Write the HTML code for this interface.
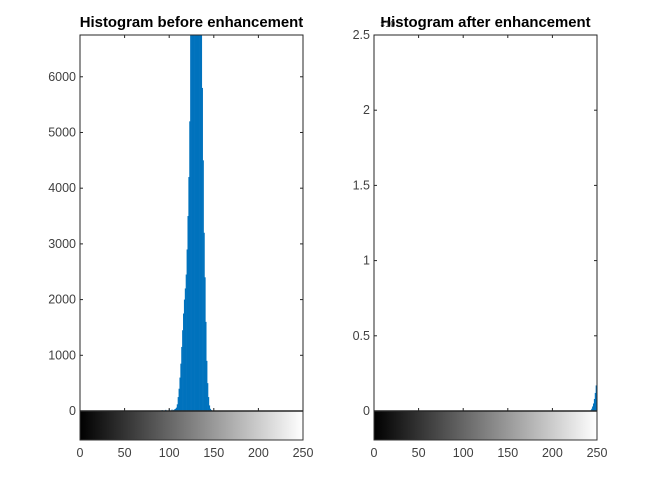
<!DOCTYPE html>
<html><head><meta charset="utf-8"><style>
html,body{margin:0;padding:0;background:#fff;}
svg text{font-family:"Liberation Sans",Arial,sans-serif;}
</style></head><body>
<svg id="fig" width="660" height="478" viewBox="0 0 660 478" xmlns="http://www.w3.org/2000/svg">
<defs>
<linearGradient id="gray" x1="0" x2="1" y1="0" y2="0"><stop offset="0" stop-color="#000"/><stop offset="1" stop-color="#fff"/></linearGradient>
</defs>
</svg>
<script>
// Left histogram (before enhancement)
const binsBefore = [92,96,100,103,105,106,107,108,109,110,111,112,113,114,115,116,117,118,119,120,121,122,123,124,125,126,127,128,129,130,131,132,133,134,135,136,137,138,139,140,141,142,143,144,145,146,147];
const countsBefore = [15,20,30,25,20,30,40,60,120,250,400,600,850,1150,1450,1750,2000,2200,2450,2900,3500,4200,5200,7000,8000,8500,8800,9000,9000,8800,8500,8000,7500,7200,7000,6900,5800,4500,3200,2400,1600,900,500,250,100,40,20];
const yTicksBefore = [0,1000,2000,3000,4000,5000,6000];
// Right histogram (after enhancement), counts in units of 10^4
const binsAfter = [243,244,245,246,247,248,249,250];
const countsAfter = [0.005,0.015,0.03,0.05,0.08,0.12,0.17,0.23];
const yTicksAfter = [0,0.5,1,1.5,2,2.5];
const yTickLabelsAfter = ["0","0.5","1","1.5","2","2.5"];
const xTicks = [0,50,100,150,200,250];

const NS="http://www.w3.org/2000/svg";
const svg=document.getElementById('fig');
function mk(tag,attrs,parent){const e=document.createElementNS(NS,tag);for(const k in attrs)e.setAttribute(k,attrs[k]);(parent||svg).appendChild(e);return e;}

function panel(o){
  const g=mk('g',{});
  
  
  const sx=v=>o.x0+(v-0)/(250-0)*(o.x1-o.x0);
  const sy=v=>o.y0-(v-0)/(o.ymax)*(o.y0-o.yTop);
  const cid='clip-'+o.name;
  const cp=mk('clipPath',{id:cid},g);mk('rect',{x:o.x0,y:o.yTop,width:o.x1-o.x0,height:o.y0-o.yTop},cp);
  const bars=mk('g',{'clip-path':'url(#'+cid+')'},g);
  o.bins.forEach((b,i)=>{
    const y=sy(o.counts[i]);
    const r=mk('rect',{x:sx(b-0.5),y:y,width:sx(b+0.5)-sx(b-0.5)+0.3,height:o.y0-y,fill:'#0072BD'},bars);
    
    
  });
  const cb=mk('rect',{x:o.x0,y:o.y0,width:o.x1-o.x0,height:29,fill:'url(#gray)',stroke:'#333','stroke-width':1},g);
  
  
  const box=mk('rect',{x:o.x0,y:o.yTop,width:o.x1-o.x0,height:o.y0-o.yTop,fill:'none',stroke:'#262626','stroke-width':1},g);
  
  
  mk('line',{x1:o.x0,x2:o.x1,y1:o.y0,y2:o.y0,stroke:'#262626','stroke-width':1.5},g);
  o.yTicks.forEach((t,i)=>{
    const y=sy(t);
    mk('line',{x1:o.x0,x2:o.x0+3,y1:y,y2:y,stroke:'#262626'},g);
    mk('line',{x1:o.x1,x2:o.x1-3,y1:y,y2:y,stroke:'#262626'},g);
    const tx=mk('text',{x:o.x0-4,y:y+4,'text-anchor':'end','font-size':12.5,fill:'#404040'},g);
    tx.textContent=o.yLabels?o.yLabels[i]:String(t);
    
    
  });
  xTicks.forEach(t=>{
    const x=sx(t);
    mk('line',{x1:x,x2:x,y1:o.yTop,y2:o.yTop+3,stroke:'#262626'},g);
    mk('line',{x1:x,x2:x,y1:o.y0,y2:o.y0-3,stroke:'#262626'},g);
    const tx=mk('text',{x:x,y:457,'text-anchor':'middle','font-size':12.5,fill:'#404040'},g);
    tx.textContent=String(t);
    
    
  });
  const ti=mk('text',{x:(o.x0+o.x1)/2,y:27,'text-anchor':'middle','font-size':14.9,'font-weight':'bold',fill:'#000'},g);
  ti.textContent=o.title;
  
  
  return g;
}
panel({name:'histogram-before',x0:80,x1:303,y0:411,yTop:35,ymax:6750,bins:binsBefore,counts:countsBefore,yTicks:yTicksBefore,title:'Histogram before enhancement'});
panel({name:'histogram-after',x0:374,x1:597,y0:411,yTop:35,ymax:2.5,bins:binsAfter,counts:countsAfter,yTicks:yTicksAfter,yLabels:yTickLabelsAfter,title:'Histogram after enhancement'});
const ex=mk('text',{x:380,y:27,'font-size':9,fill:'#404040'});
ex.textContent='×10';


</script>
</body></html>
